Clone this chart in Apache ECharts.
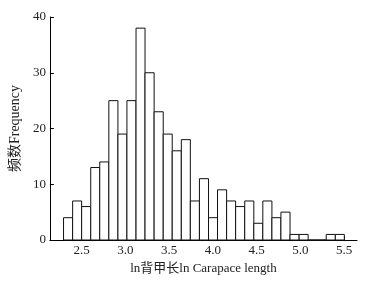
<!DOCTYPE html>
<html><head><meta charset="utf-8">
<script src="https://cdn.jsdelivr.net/npm/echarts@6/dist/echarts.min.js"></script>
<style>html,body{margin:0;padding:0;background:#fff}#c{width:390px;height:284px}</style>
</head><body><div id="c"></div>
<script>
// Bin edges (ln carapace length) and frequencies
const binEdges = [2.292, 2.396, 2.499, 2.603, 2.706, 2.810, 2.914, 3.017, 3.121, 3.224, 3.328, 3.432, 3.535, 3.639, 3.742, 3.846, 3.950, 4.053, 4.157, 4.260, 4.364, 4.468, 4.571, 4.675, 4.778, 4.882, 4.986, 5.089, 5.193, 5.296, 5.400, 5.503];
const counts = [4, 7, 6, 13, 14, 25, 19, 25, 38, 30, 23, 19, 16, 18, 7, 11, 4, 9, 7, 6, 7, 3, 7, 4, 5, 1, 1, 0, 0, 1, 1];
const xTicks = [2.5, 3.0, 3.5, 4.0, 4.5, 5.0, 5.5];
const xName = 'ln背甲长ln Carapace length';
const yName = '频数Frequency';

const data = counts.map((c, i) => [binEdges[i], binEdges[i + 1], c]);
const font = '"Liberation Serif", "Noto Sans CJK SC", serif';
const chart = echarts.init(document.getElementById('c'), null, {renderer: 'canvas'});
chart.setOption({
  animation: false,
  grid: {left: 48, right: 33, top: 17, bottom: 44},
  xAxis: {
    type: 'value', min: 2.136, max: 5.648,
    name: xName, nameLocation: 'middle', nameGap: 20,
    nameTextStyle: {fontFamily: font, fontSize: 13, color: '#222'},
    axisLine: {show: true, lineStyle: {color: '#000', width: 1}},
    axisTick: {show: true, inside: true, length: 4, customValues: xTicks, lineStyle: {color: '#000'}},
    axisLabel: {customValues: xTicks, margin: 4, fontFamily: font, fontSize: 13, color: '#222',
      formatter: v => v.toFixed(1)},
    splitLine: {show: false}
  },
  yAxis: {
    type: 'value', min: 0, max: 40, interval: 10,
    name: yName, nameLocation: 'middle', nameGap: 22,
    nameTextStyle: {fontFamily: font, fontSize: 14, color: '#222'},
    axisLine: {show: true, lineStyle: {color: '#000', width: 1}},
    axisTick: {show: true, inside: true, length: 4, lineStyle: {color: '#000'}},
    axisLabel: {margin: 4, fontFamily: font, fontSize: 13, color: '#222'},
    splitLine: {show: false}
  },
  series: [{
    type: 'custom',
    data: data,
    encode: {x: [0, 1], y: 2},
    renderItem: function (params, api) {
      const p0 = api.coord([api.value(0), api.value(2)]);
      const p1 = api.coord([api.value(1), 0]);
      return {
        type: 'rect',
        shape: {x: p0[0], y: p0[1], width: p1[0] - p0[0], height: p1[1] - p0[1]},
        style: {fill: '#fff', stroke: '#111', lineWidth: 1}
      };
    }
  }]
});
</script></body></html>
